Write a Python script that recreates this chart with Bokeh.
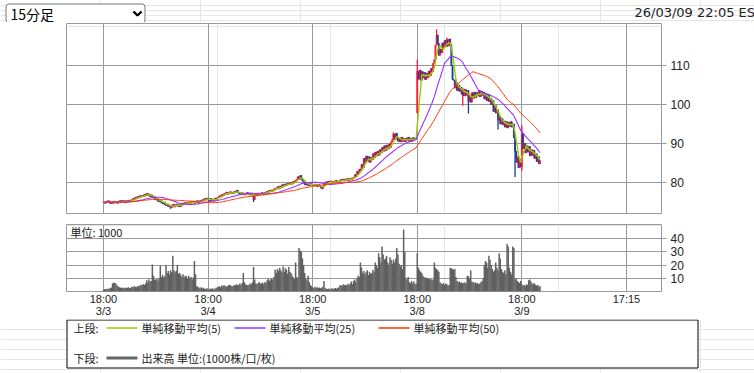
from bokeh.plotting import figure
from bokeh.models import Range1d, FixedTicker, LinearAxis, Grid, ColumnDataSource, Label
from bokeh.layouts import column
from bokeh.embed import file_html
from bokeh.resources import INLINE
from bokeh.core.properties import value
import pandas as pd

# ---------------- data (15-minute bars, 92 per session) ----------------
close_d1 = [75.0, 74.7, 75.2, 74.8, 75.3, 74.9, 74.6, 75.1, 74.7, 75.2, 74.8, 75.1, 74.7, 75.2,
            75.3, 74.9, 75.4, 75.0, 75.3, 74.8, 75.3, 75.4, 75.0, 75.5, 75.2,
            75.6, 75.9, 75.6, 76.2, 76.0, 76.4, 76.1, 76.6, 76.3,
            76.7, 76.4, 77.0, 76.6, 77.2, 76.6, 77.0, 76.4, 76.8,
            76.1, 76.4, 75.8, 75.5, 75.9, 75.2, 75.0, 75.5, 74.8, 74.5, 75.0, 74.3,
            74.1, 74.5, 73.8, 74.2, 73.5, 74.1, 74.4, 73.7, 74.2, 74.5, 73.9, 74.3, 73.8, 74.4, 74.6,
            74.3, 74.8, 74.4, 74.9, 74.5, 75.0, 74.6, 75.1,
            74.8, 75.2, 74.7, 75.1, 75.3, 74.8, 75.2, 75.4, 75.1,
            75.6, 75.3, 75.9, 75.5, 76.0]
close_d2 = [75.7, 75.3, 75.9, 75.4, 75.2, 75.7, 76.0, 75.6, 76.1,
            76.3, 76.6, 76.3, 76.9, 76.6, 77.1,
            77.3, 77.5, 77.0, 77.4, 77.6, 77.1, 77.5, 77.2, 77.7, 77.4, 78.0, 77.5, 77.2,
            77.0, 77.4, 76.9, 77.3, 76.8, 77.2, 77.4, 76.9, 77.3, 76.8, 77.2, 76.7,
            75.6,
            76.9, 77.2, 76.9, 77.3, 76.8, 77.2, 77.4, 76.9, 77.3, 77.5,
            77.4, 77.8, 77.5, 78.0, 77.7, 78.1, 77.8, 78.3, 78.5,
            78.5, 78.9, 78.4, 79.1, 78.7, 79.4, 78.9, 79.6, 79.2,
            79.7, 79.4, 79.9, 79.5, 80.0, 79.6, 80.3, 80.0, 80.6,
            80.9, 81.5, 80.8, 81.8, 81.0, 80.4,
            80.1, 79.4, 79.9,
            79.3, 79.8, 79.2, 79.7, 79.4]
close_d3 = [79.5, 79.1, 79.6, 79.2, 79.0, 79.5, 79.1,
            78.7, 78.4, 79.0,
            79.6, 80.0, 80.2, 79.8, 80.3, 79.9, 80.4, 80.0, 79.9, 80.3, 80.5, 80.0, 80.4, 80.1,
            80.6, 80.8, 80.4, 80.9, 80.4, 80.8, 81.0, 80.5, 80.9, 81.1, 80.7, 81.2,
            81.2, 82.0, 81.6, 82.8, 82.2, 83.4, 83.0,
            84.6, 83.8, 86.2, 85.0, 86.8, 85.4, 86.6, 85.2, 86.4,
            85.8, 87.4, 86.4, 87.8, 86.8, 88.0, 87.0, 88.4, 87.6,
            89.0, 88.0, 89.4, 88.2, 89.6, 88.6, 89.8, 89.0, 90.4,
            91.0, 92.4, 91.0, 92.6, 91.4, 90.6,
            91.4, 90.4, 91.6, 90.6, 91.2, 90.4, 91.4, 90.8, 91.6, 90.5, 91.3, 90.6, 91.5, 90.9, 91.2, 91.4]
close_d4 = [108.5,
            106.5, 108.8, 106.2, 108.4,
            106.8, 108.2, 106.4, 108.0, 106.9, 108.6, 107.4,
            109.2, 108.4, 110.6, 111.5,
            115.2, 117.8, 115.6,
            112.6, 114.2, 113.2, 115.8,
            114.6, 116.4, 114.8, 116.6, 115.0, 116.8, 115.4,
            110.0, 106.4,
            106.2, 104.2, 105.6, 103.6, 105.0, 103.4,
            104.4, 102.6, 104.0, 102.2, 103.8, 102.4, 103.6,
            100.8, 102.4, 100.6, 103.0, 101.6, 103.2, 101.8, 103.0,
            102.2, 103.6, 102.0, 103.4, 102.4, 103.2, 101.4, 102.8, 101.0, 102.6, 100.8, 101.6,
            100.0, 101.0, 98.2, 99.8, 97.8, 98.6,
            96.0, 97.0, 95.0, 96.4, 94.8,
            95.8, 94.2, 95.6, 94.0, 95.4, 94.4,
            95.6, 94.2, 95.0,
            91.5, 88.0, 85.2, 86.6, 83.8, 86.0, 84.0]
close_d5 = [92.5, 88.6, 90.0, 87.6, 89.4, 87.8, 89.2, 86.8, 88.4,
            87.0, 88.2, 86.2, 87.4, 85.4, 86.6, 84.8, 85.6]

open_overrides = {276: 97.8}
wick_high = {255: 92.8, 276: 111.5, 293: 119.3, 302: 117.2, 368: 94.6}
wick_low = {59: 73.3, 132: 75.0, 316: 99.7, 321: 97.7, 347: 93.6, 362: 81.4, 368: 83.0}

vol_d1 = [1.2, 1.8, 1.5, 2.0, 1.7, 2.2, 2.5, 3.0,
          6.0, 6.8, 6.5, 5.8, 4.5, 3.8,
          3.2, 2.8, 3.0, 2.5, 2.7, 3.1, 2.6, 2.9, 3.3, 2.4, 2.8, 3.5, 3.2, 4.0, 3.6, 3.3, 4.2, 3.8, 4.5,
          5.2, 4.8, 5.5, 5.0, 6.0,
          8.5, 7.0, 9.2, 7.5, 8.0,
          20.5, 12.0, 9.0,
          8.8, 9.5, 8.2, 10.0,
          19.5, 11.0, 12.5, 10.5, 11.5,
          20.0,
          14.0, 15.5, 13.0, 16.0, 14.5,
          27.0, 16.0,
          14.5, 15.5, 20.0, 13.5, 14.0,
          12.5, 11.0, 13.0, 10.5, 12.0, 11.5, 9.5, 12.0, 10.0,
          11.0, 9.0, 10.5,
          23.0, 13.0,
          4.0, 3.5, 3.0, 2.5, 3.2, 2.2, 2.8, 2.0, 1.8, 2.4]
vol_d2 = [2.0, 1.5, 2.2, 1.8, 2.5, 1.6, 2.0, 2.8,
          3.0, 3.5, 4.0, 3.2, 4.5, 3.8, 5.0, 4.2, 3.5, 4.0, 4.8, 5.2, 4.5, 3.8, 4.2, 5.0, 4.6, 5.5, 4.8, 5.2, 6.0, 5.0,
          6.5, 14.0, 7.0,
          5.5, 5.0, 4.8, 5.2, 6.0, 5.5,
          7.0, 18.5, 9.0,
          6.0, 5.5, 6.5, 7.0, 5.8, 6.2, 6.8, 5.5, 7.2, 6.5,
          8.5, 9.5, 8.0, 9.0, 10.0, 8.8, 11.0,
          16.5, 14.0, 17.0, 15.5, 18.0, 16.0, 14.5, 19.0, 15.0, 17.5, 16.5, 13.5, 18.5, 15.0, 14.0, 12.0,
          10.5, 9.5, 22.0, 11.0, 10.0,
          33.0,
          31.0, 30.0, 25.0, 20.0, 14.0,
          10.0, 8.5, 12.0, 7.0, 5.0, 4.0]
vol_d3 = [3.0, 2.5, 3.5, 2.8, 3.2, 2.6, 3.0, 2.4, 2.8, 3.5,
          8.0,
          2.5, 2.0, 1.8, 2.2, 1.6, 2.0, 2.4, 1.8, 2.2, 2.6, 2.0, 2.8, 3.0,
          4.5, 5.0, 4.2, 5.5, 4.8, 5.2, 4.5, 5.8, 5.0, 6.0, 7.5, 5.5, 8.0, 9.0, 7.0, 10.0, 12.0, 11.0,
          22.0, 18.0, 14.0, 15.5, 13.0, 14.5, 16.0, 12.5, 15.0, 13.5, 14.0, 16.5, 15.0,
          22.0, 20.0, 18.0,
          29.0, 26.0, 22.0,
          34.0, 28.0, 24.0,
          25.0, 27.0, 22.0, 20.0, 26.0, 24.0, 21.0,
          24.0, 22.0, 25.0,
          33.0, 28.0, 21.0,
          19.0, 20.0, 17.0,
          47.0, 30.0,
          10.0, 9.0, 11.0,
          7.0, 6.5, 8.0, 6.0, 7.5, 5.5, 6.0]
vol_d4 = [29.0, 18.0, 16.0,
          15.0, 14.0, 12.0,
          11.0, 10.0, 10.5, 9.5, 10.0, 9.0, 9.5, 8.5, 9.0,
          22.0, 18.0, 17.0,
          16.0, 15.0,
          7.0, 6.0, 5.5, 6.5, 5.0, 6.0, 5.5, 4.5, 5.0,
          18.0, 17.5, 17.0, 16.5, 17.0, 11.0,
          8.0, 7.0, 7.5, 6.5, 7.0, 6.0, 6.5, 7.0, 6.0,
          12.0, 11.5, 10.0,
          16.0,
          7.5, 7.0, 6.5, 7.0, 6.0, 6.5, 5.5, 6.0, 7.0, 8.0, 10.0,
          20.0, 23.0, 22.0, 18.0,
          27.0, 24.0, 20.0,
          17.0, 15.0, 16.0,
          22.0, 18.0, 16.0,
          29.0, 25.0, 17.0,
          15.0, 14.0, 16.0, 13.0,
          36.0, 34.0, 18.0,
          15.0, 13.0,
          34.0, 33.0,
          9.0, 10.0, 8.0,
          7.0, 6.5, 8.0]
vol_d5 = [5.5, 4.5, 5.0, 4.0, 5.5, 5.0, 8.5, 9.0, 7.5, 6.0, 5.5, 6.5, 5.0, 4.5, 5.0, 3.5, 4.0]

day_ticks = [0, 92, 184, 276, 368, 460]
day_labels = ["18:00\n3/3", "18:00\n3/4", "18:00\n3/5", "18:00\n3/8", "18:00\n3/9", "17:15"]
price_ticks = [80, 90, 100, 110]
vol_ticks = [10, 20, 30, 40]
ma_periods = [5, 25, 50]
ma_labels = ["単純移動平均(5)", "単純移動平均(25)", "単純移動平均(50)"]

# ---------------- derived ----------------
closes = close_d1 + close_d2 + close_d3 + close_d4 + close_d5
vols = vol_d1 + vol_d2 + vol_d3 + vol_d4 + vol_d5
n = len(closes)
idx = list(range(n))
opens = [closes[0] - 0.1] + closes[:-1]
for k, v_ in open_overrides.items():
    opens[k] = v_
highs = [max(o, c) for o, c in zip(opens, closes)]
lows = [min(o, c) for o, c in zip(opens, closes)]
for k, v_ in wick_high.items():
    highs[k] = max(highs[k], v_)
for k, v_ in wick_low.items():
    lows[k] = min(lows[k], v_)
UP, DOWN = "#ff1744", "#163d99"
cols = [UP if c >= o else DOWN for o, c in zip(opens, closes)]
src = ColumnDataSource(dict(x=idx, h=highs, l=lows,
                            top=[max(a, b) for a, b in zip(opens, closes)],
                            bot=[min(a, b) for a, b in zip(opens, closes)],
                            col=cols, v=vols))
s = pd.Series(closes)
ma = {p_: s.rolling(p_, min_periods=1).mean().tolist() for p_ in ma_periods}
MA_COLORS = ["#99cc00", "#9933ff", "#ff3300"]
MA_WIDTHS = [1.4, 1.1, 1.0]

GRID = "#999999"
W = 754
XR = Range1d(-32.5, 490.8)
NUM_FONT = value("Liberation Sans")
JP_FONT = value("Noto Sans CJK JP")

# ---------------- header ----------------
hd = figure(width=W, height=22, x_range=Range1d(0, W), y_range=Range1d(22, 0),
            x_axis_location=None, y_axis_location=None, toolbar_location=None,
            output_backend="svg", min_border=0, min_border_left=0, min_border_right=0,
            min_border_top=0, min_border_bottom=0)
hd.outline_line_color = None
hd.quad(left=[5.5], right=[144.5], top=[3.5], bottom=[22.5], fill_color="white",
        line_color="#767676", line_width=1, border_radius=3)
hd.text(x=[10], y=[13], text=["15分足"], text_font=JP_FONT, text_font_size="14px",
        text_baseline="middle", text_color="black")
hd.line(x=[133, 137, 141], y=[11, 15, 11], line_width=2.4, line_color="black")
hd.text(x=[634], y=[12], text=["26/03/09 22:05 EST"], text_font=value("DejaVu Sans"),
        text_font_size="13px", text_baseline="middle", text_color="#222222")

# ---------------- price panel ----------------
p = figure(width=W, height=197, x_range=XR, y_range=Range1d(72.05, 120.77),
           x_axis_location=None, y_axis_location=None, toolbar_location=None,
           output_backend="svg", min_border_left=66, min_border_right=93,
           min_border_top=1, min_border_bottom=6)
p.outline_line_color = GRID
p.add_layout(Grid(dimension=0, ticker=FixedTicker(ticks=day_ticks), grid_line_color=GRID))
p.add_layout(Grid(dimension=1, ticker=FixedTicker(ticks=price_ticks), grid_line_color=GRID))
ay = LinearAxis(ticker=FixedTicker(ticks=price_ticks))
ay.axis_line_color = None
ay.major_tick_line_color = GRID
ay.major_tick_out = 5
ay.major_tick_in = 0
ay.minor_tick_line_color = None
ay.major_label_standoff = 4
ay.major_label_text_font = "Liberation Sans"
ay.major_label_text_font_size = "12px"
ay.major_label_text_color = "#222222"
p.add_layout(ay, "right")

p.segment(x0="x", x1="x", y0="l", y1="h", line_color="col", line_width=1.3, source=src)
p.vbar(x="x", width=0.9, top="top", bottom="bot", fill_color="col", line_color="col",
       line_width=0.6, source=src)
for per, colr, lw in zip(ma_periods, MA_COLORS, MA_WIDTHS):
    p.line(idx, ma[per], line_color=colr, line_width=lw)

# ---------------- volume panel ----------------
v = figure(width=W, height=100, x_range=XR, y_range=Range1d(0, 50.7),
           x_axis_location=None, y_axis_location=None, toolbar_location=None,
           output_backend="svg", min_border_left=66, min_border_right=93,
           min_border_top=5, min_border_bottom=24)
v.outline_line_color = GRID
v.add_layout(Grid(dimension=0, ticker=FixedTicker(ticks=day_ticks), grid_line_color=GRID))
v.add_layout(Grid(dimension=1, ticker=FixedTicker(ticks=vol_ticks), grid_line_color=GRID))
vy = LinearAxis(ticker=FixedTicker(ticks=vol_ticks))
vy.axis_line_color = None
vy.major_tick_line_color = GRID
vy.major_tick_out = 5
vy.major_tick_in = 0
vy.minor_tick_line_color = None
vy.major_label_standoff = 4
vy.major_label_text_font = "Liberation Sans"
vy.major_label_text_font_size = "12px"
vy.major_label_text_color = "#222222"
v.add_layout(vy, "right")
vx = LinearAxis(ticker=FixedTicker(ticks=day_ticks))
vx.major_label_overrides = {t: lab for t, lab in zip(day_ticks, day_labels)}
vx.axis_line_color = None
vx.major_tick_line_color = None
vx.minor_tick_line_color = None
vx.major_tick_out = 0
vx.major_tick_in = 0
vx.major_label_standoff = 1
vx.major_label_text_font = "Liberation Sans"
vx.major_label_text_font_size = "11px"
vx.major_label_text_line_height = 1.0
vx.major_label_text_color = "#222222"
v.add_layout(vx, "below")
v.vbar(x="x", width=1.3, top="v", bottom=0, fill_color="#606060", line_color=None, source=src)
v.add_layout(Label(x=-29, y=45, text="単位: 1000", text_font="Noto Sans CJK JP",
                   text_font_size="11px", text_baseline="middle", text_color="#222222"))

# ---------------- legend panel ----------------
lg = figure(width=W, height=54, x_range=Range1d(0, W), y_range=Range1d(54, 0),
            x_axis_location=None, y_axis_location=None, toolbar_location=None,
            output_backend="svg", min_border=0, min_border_left=0, min_border_right=0,
            min_border_top=0, min_border_bottom=0)
lg.outline_line_color = None
lg.quad(left=[66.5], right=[697.5], top=[0.5], bottom=[48.5], fill_color="white",
        line_color="black", line_width=1)
row1, row2 = 8.5, 38.5
lg.text(x=[73, 73], y=[row1, row2], text=["上段:", "下段:"], text_font=JP_FONT,
        text_font_size="11px", text_baseline="middle", text_color="#222222")
seg_x0 = [106, 234, 378]
txt_x = [141, 269, 413]
for sx, tx, colr, lab in zip(seg_x0, txt_x, MA_COLORS, ma_labels):
    lg.segment(x0=[sx], x1=[sx + 31], y0=[row1], y1=[row1], line_color=colr, line_width=1.5)
    lg.text(x=[tx], y=[row1], text=[lab], text_font=JP_FONT, text_font_size="11px",
            text_baseline="middle", text_color="#222222")
lg.segment(x0=[106], x1=[137], y0=[row2], y1=[row2], line_color="#666666", line_width=3)
lg.text(x=[141], y=[row2], text=["出来高 単位:(1000株/口/枚)"], text_font=JP_FONT,
        text_font_size="11px", text_baseline="middle", text_color="#222222")

layout = column(hd, column(p, v, spacing=0), lg, spacing=0)
open("out.html", "w").write(file_html(layout, INLINE))
